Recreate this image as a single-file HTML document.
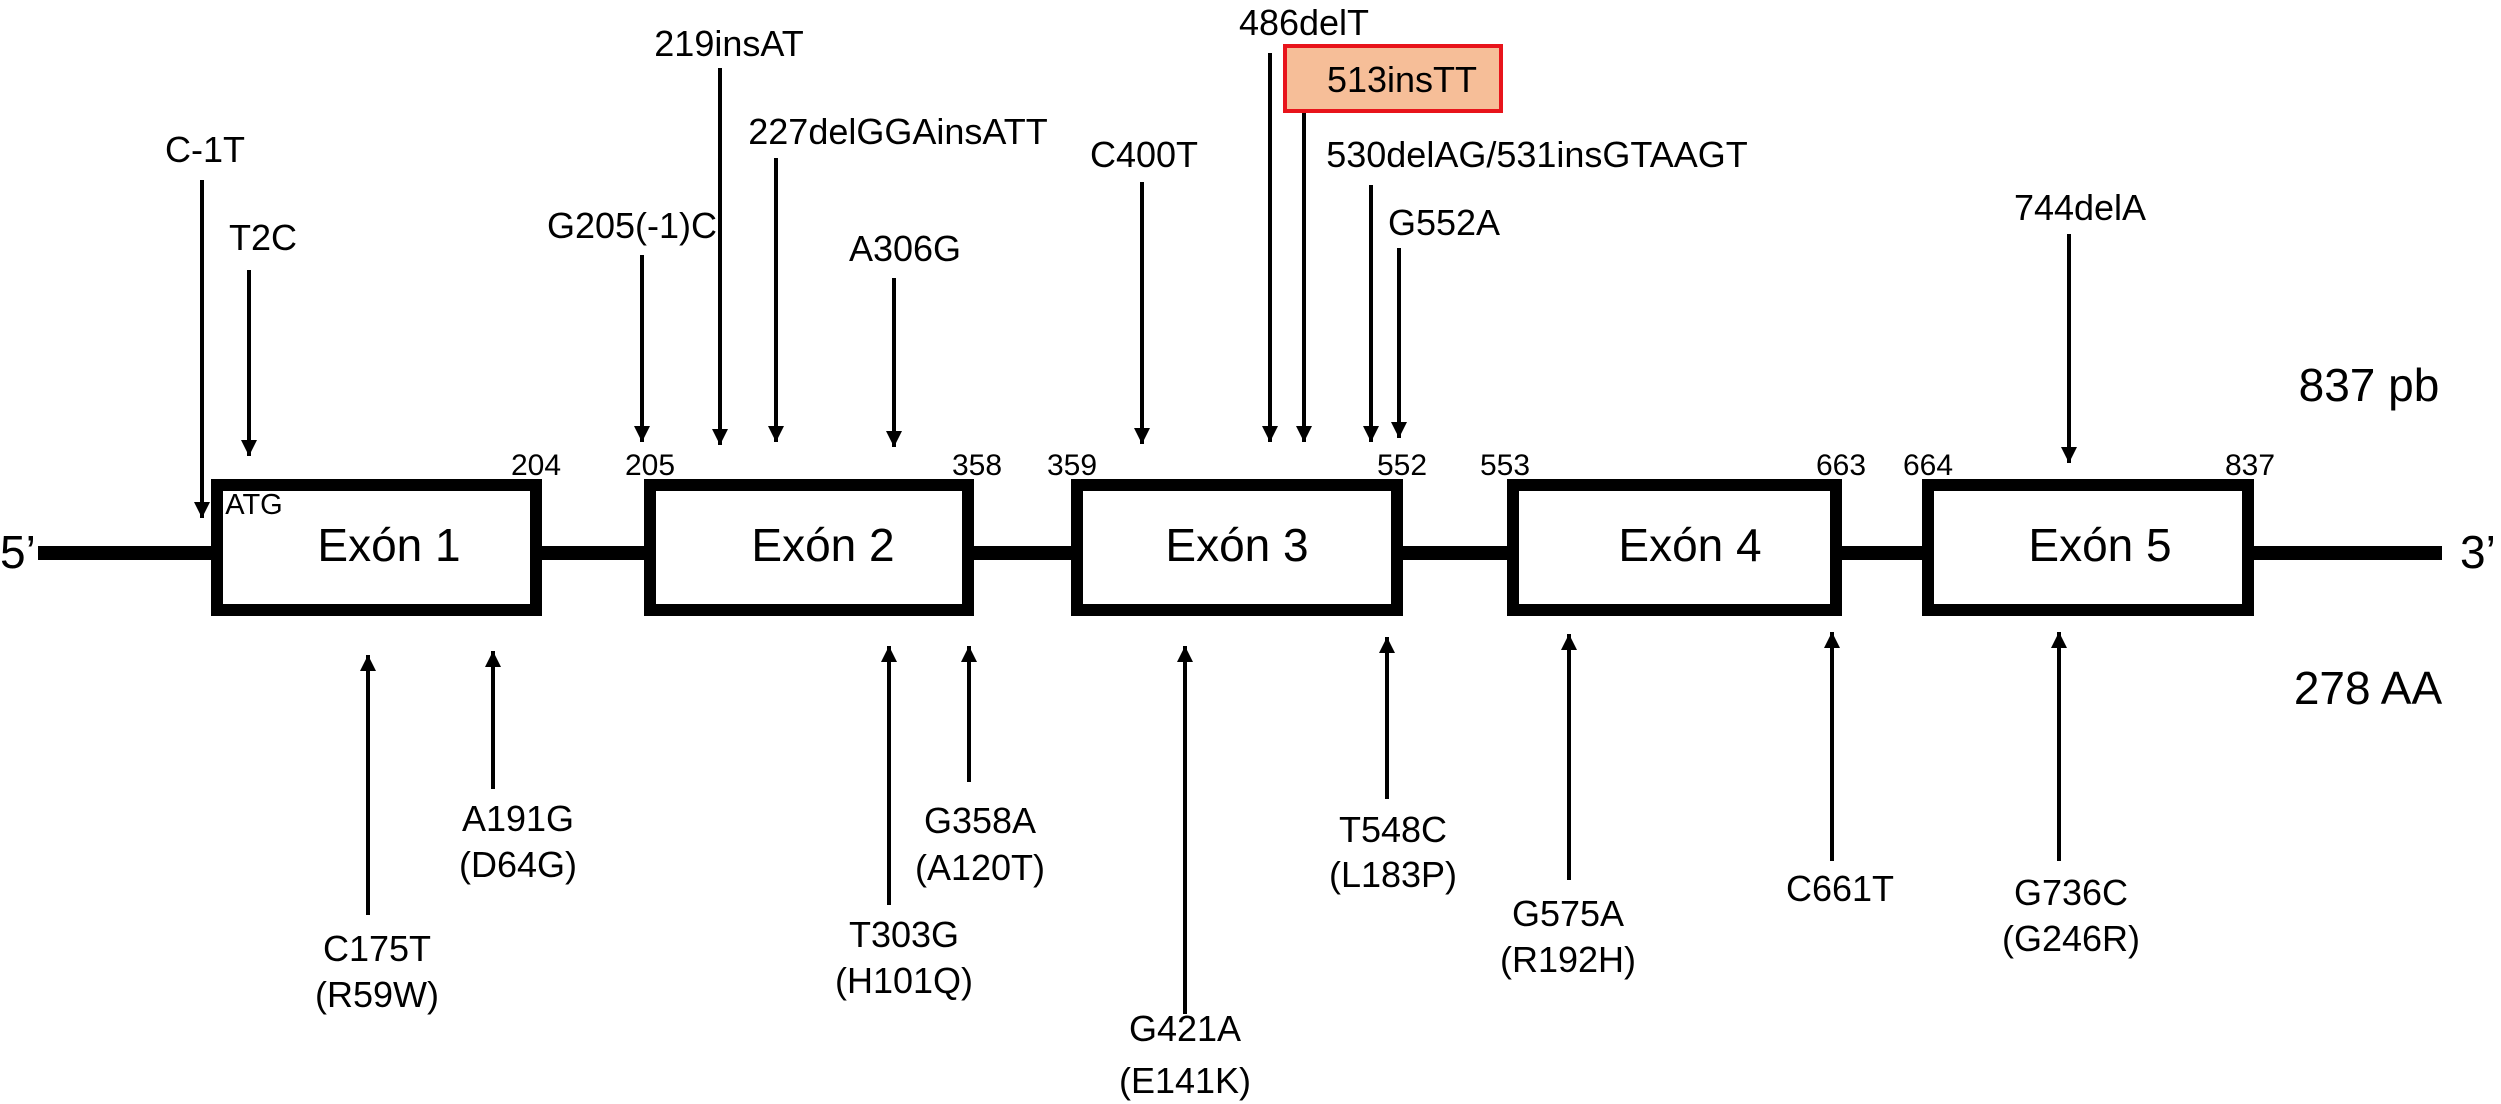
<!DOCTYPE html>
<html><head><meta charset="utf-8"><style>html,body{margin:0;padding:0;background:#fff}svg{display:block}</style></head><body>
<svg width="2501" height="1104" viewBox="0 0 2501 1104" xmlns="http://www.w3.org/2000/svg" font-family="Liberation Sans, Arial, sans-serif" fill="#000">
<defs>
<marker id="a" viewBox="0 0 10 10" refX="10" refY="5" markerWidth="4" markerHeight="5" orient="auto" markerUnits="strokeWidth"><path d="M0,0L10,5L0,10z" fill="#000"/></marker>
</defs>
<line x1="38" y1="553" x2="2442" y2="553" stroke="#000" stroke-width="14"/>
<g fill="#fff" stroke="#000" stroke-width="12">
<rect x="217" y="485" width="319" height="125"/>
<rect x="650" y="485" width="318" height="125"/>
<rect x="1077" y="485" width="320" height="125"/>
<rect x="1513" y="485" width="323" height="125"/>
<rect x="1928" y="485" width="320" height="125"/>
</g>
<g font-size="46" text-anchor="middle">
<text x="389" y="561">Exón 1</text>
<text x="823" y="561">Exón 2</text>
<text x="1237" y="561">Exón 3</text>
<text x="1690" y="561">Exón 4</text>
<text x="2100" y="561">Exón 5</text>
</g>
<text x="0" y="568" font-size="46">5’</text>
<text x="2460" y="568" font-size="46">3’</text>
<text x="2369" y="401" font-size="46" text-anchor="middle">837 pb</text>
<text x="2368" y="704" font-size="46" text-anchor="middle">278 AA</text>
<g font-size="30" text-anchor="middle">
<text x="536" y="475">204</text><text x="650" y="475">205</text>
<text x="977" y="475">358</text><text x="1072" y="475">359</text>
<text x="1402" y="475">552</text><text x="1505" y="475">553</text>
<text x="1841" y="475">663</text><text x="1928" y="475">664</text>
<text x="2250" y="475">837</text>
<text x="254" y="514" font-size="29">ATG</text>
</g>
<g stroke="#000" stroke-width="4" marker-end="url(#a)">
<line x1="202" y1="180" x2="202" y2="518"/>
<line x1="249" y1="270" x2="249" y2="456"/>
<line x1="642" y1="255" x2="642" y2="442"/>
<line x1="720" y1="68" x2="720" y2="445"/>
<line x1="776" y1="158" x2="776" y2="442"/>
<line x1="894" y1="278" x2="894" y2="447"/>
<line x1="1142" y1="182" x2="1142" y2="444"/>
<line x1="1270" y1="53" x2="1270" y2="442"/>
<line x1="1304" y1="113" x2="1304" y2="442"/>
<line x1="1371" y1="185" x2="1371" y2="442"/>
<line x1="1399" y1="248" x2="1399" y2="438"/>
<line x1="2069" y1="234" x2="2069" y2="463"/>
<line x1="368" y1="915" x2="368" y2="655"/>
<line x1="493" y1="789" x2="493" y2="651"/>
<line x1="889" y1="905" x2="889" y2="646"/>
<line x1="969" y1="782" x2="969" y2="646"/>
<line x1="1185" y1="1014" x2="1185" y2="646"/>
<line x1="1387" y1="799" x2="1387" y2="637"/>
<line x1="1569" y1="880" x2="1569" y2="634"/>
<line x1="1832" y1="861" x2="1832" y2="632"/>
<line x1="2059" y1="861" x2="2059" y2="632"/>
</g>
<rect x="1285" y="46" width="216" height="65" fill="#F6BE98" stroke="#E8141B" stroke-width="4"/>
<g font-size="36" text-anchor="middle">
<text x="205" y="162">C-1T</text>
<text x="263" y="250">T2C</text>
<text x="632" y="238">G205(-1)C</text>
<text x="729" y="56">219insAT</text>
<text x="898" y="144">227delGGAinsATT</text>
<text x="905" y="261">A306G</text>
<text x="1144" y="167">C400T</text>
<text x="1304" y="35">486delT</text>
<text x="1402" y="92">513insTT</text>
<text x="1537" y="167">530delAG/531insGTAAGT</text>
<text x="1444" y="235">G552A</text>
<text x="2080" y="220">744delA</text>
<text x="377" y="961">C175T</text><text x="377" y="1007">(R59W)</text>
<text x="518" y="831">A191G</text><text x="518" y="877">(D64G)</text>
<text x="904" y="947">T303G</text><text x="904" y="993">(H101Q)</text>
<text x="980" y="833">G358A</text><text x="980" y="880">(A120T)</text>
<text x="1185" y="1041">G421A</text><text x="1185" y="1093">(E141K)</text>
<text x="1393" y="842">T548C</text><text x="1393" y="887">(L183P)</text>
<text x="1568" y="926">G575A</text><text x="1568" y="972">(R192H)</text>
<text x="1840" y="901">C661T</text>
<text x="2071" y="905">G736C</text><text x="2071" y="951">(G246R)</text>
</g>
</svg>
</body></html>
